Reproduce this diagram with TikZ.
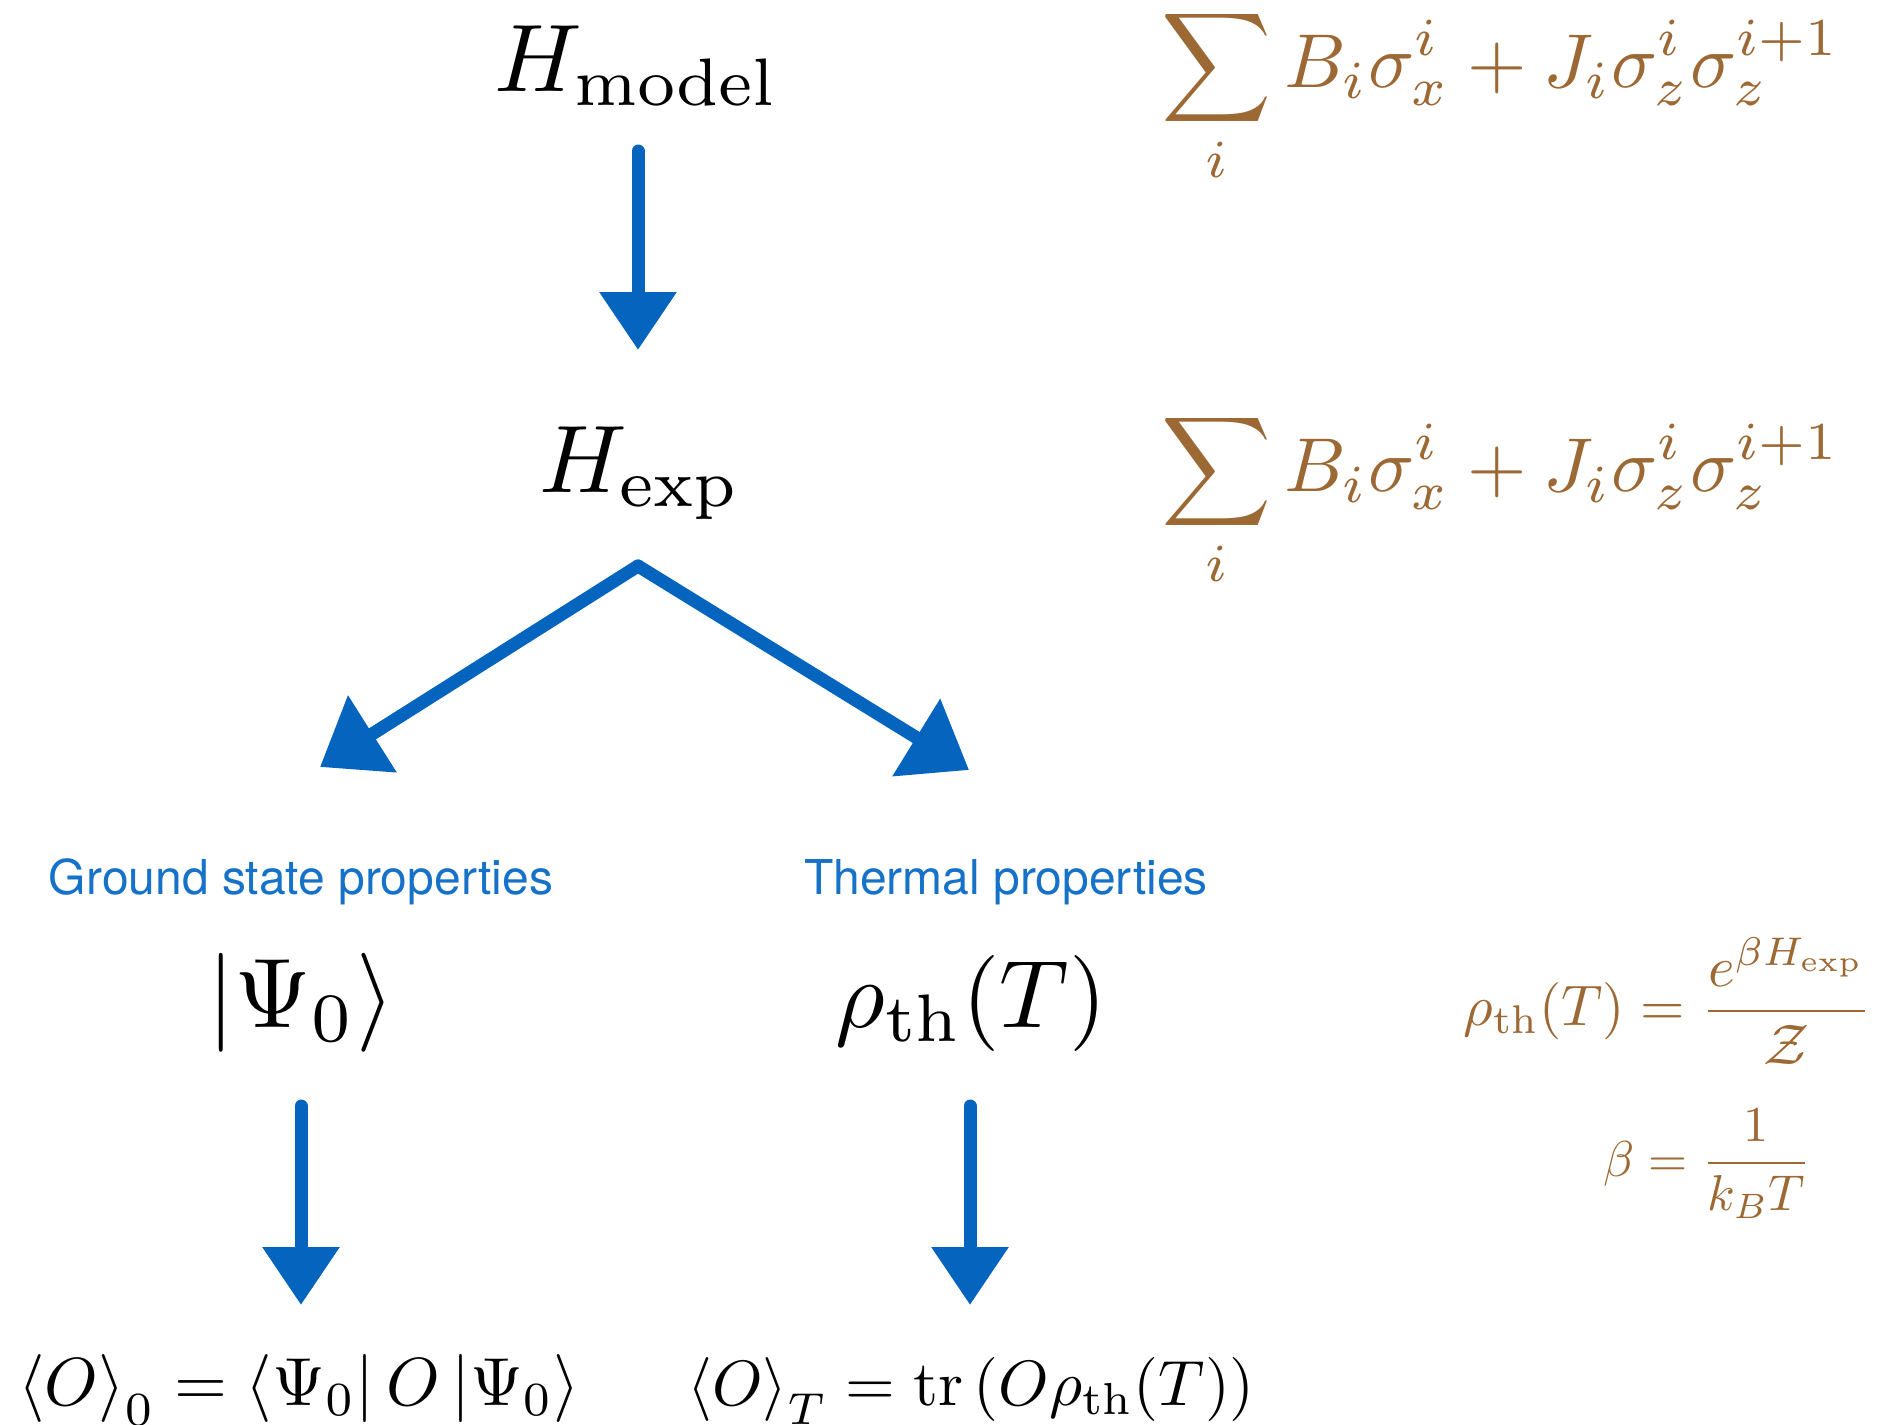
\documentclass[tikz,border=0pt]{standalone}
\usepackage{amsmath}
\usepackage{fontspec}
\newfontfamily\helv{TeX Gyre Heros}
\usetikzlibrary{arrows.meta}
\definecolor{crayon}{RGB}{4,100,190}
\definecolor{labelblue}{RGB}{22,114,200}
\definecolor{brown}{RGB}{156,104,52}
\begin{document}
\begin{tikzpicture}[x=0.5pt,y=-0.5pt,
  varr/.style={draw=crayon, line width=6.5pt, line cap=round, -{Triangle[length=29pt,width=37pt]}},
  darr/.style={draw=crayon, line width=6.5pt, line cap=round, -{Triangle[length=31pt,width=44pt]}},
  bigmath/.style={inner sep=0pt, anchor=base, scale=4.8},
  midmath/.style={inner sep=0pt, anchor=base},
  hammath/.style={inner sep=0pt, anchor=base west, scale=3.82, text=brown},
  sidemath/.style={inner sep=0pt, anchor=base, text=brown},
  lbl/.style={inner sep=0pt, anchor=base, text=labelblue, font=\helv\fontsize{24}{28}\selectfont}]
\useasboundingbox (0,0) rectangle (1895,1424);

% main column nodes
\node[bigmath] (hmodel) at (637,91) {$H_{\mathrm{model}}$};
\node[bigmath] (hexp) at (640,492) {$H_{\exp}$};
\node[hammath] (ham1) at (1160,87) {$\displaystyle\sum_i B_i\sigma_x^i + J_i\sigma_z^i\sigma_z^{i+1}$};
\node[hammath] (ham2) at (1160,491) {$\displaystyle\sum_i B_i\sigma_x^i + J_i\sigma_z^i\sigma_z^{i+1}$};

\node[lbl] (gsl) at (301,894) {Ground state properties};
\node[lbl] (thl) at (1006,894) {Thermal properties};

\node[bigmath, scale=1.03] (psi) at (301,1027) {$\left|\Psi_0\right\rangle$};
\node[bigmath] (rho) at (971,1027) {$\rho_{\mathrm{th}}(T)$};

\node[midmath, scale=3.4] (o0) at (299,1405) {$\left\langle O\right\rangle_0=\left\langle\Psi_0\right| O \left|\Psi_0\right\rangle$};
\node[midmath, scale=3.2] (oT) at (971,1405) {$\left\langle O\right\rangle_T=\mathrm{tr}\left(O\rho_{\mathrm{th}}(T)\right)$};

\node[sidemath, scale=2.86] (rhoeq) at (1668,1025) {$\displaystyle\rho_{\mathrm{th}}(T)=\frac{e^{\beta H_{\exp}}}{\mathcal{Z}}$};
\node[sidemath, scale=2.52] (betaeq) at (1707,1176) {$\displaystyle\beta=\frac{1}{k_BT}$};

% arrow end points
\coordinate (a1s) at (638,151);
\coordinate (a1e) at (638,350);
\coordinate (apex) at (638,566);
\coordinate (tipL) at (320,767);
\coordinate (tipR) at (969,770);
\coordinate (a2s) at (301,1106);
\coordinate (a2e) at (301,1305);
\coordinate (a3s) at (970,1106);
\coordinate (a3e) at (970,1305);

\draw[varr] (a1s) -- (a1e);
\draw[darr] (apex) -- (tipL);
\draw[darr] (apex) -- (tipR);
\draw[varr] (a2s) -- (a2e);
\draw[varr] (a3s) -- (a3e);
\end{tikzpicture}
\end{document}
